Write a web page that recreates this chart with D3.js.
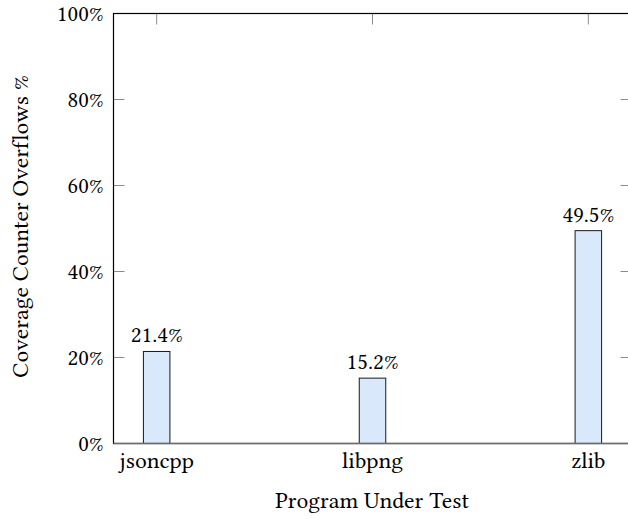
<!DOCTYPE html>
<html><head><meta charset="utf-8">
<script src="https://cdn.jsdelivr.net/npm/d3@7"></script>
</head><body style="margin:0"><svg id="c" width="628" height="519"></svg>
<script>
const categories = ["jsoncpp", "libpng", "zlib"];
const values = [21.4, 15.2, 49.5];
const yTicks = [0, 20, 40, 60, 80, 100];

const svg = d3.select("#c");
const FF = "Libertinus Serif";
const L = 113.5, R = 631.5, T = 13.5, B = 443.5;
const fs = 23.5, fn = 23;
const x = d3.scalePoint().domain(categories).range([L, R]).padding(0.2);
const y = d3.scaleLinear().domain([0, 100]).range([B, T]);
const bw = 26.5;

// ticks (gray, inside)
const tg = svg.append("g").attr("stroke", "#8c8c8c").attr("stroke-width", 1);
yTicks.forEach(t => {
  tg.append("line").attr("x1", L).attr("x2", L + 11).attr("y1", y(t)).attr("y2", y(t));
  tg.append("line").attr("x1", R - 11).attr("x2", R).attr("y1", y(t)).attr("y2", y(t));
});
categories.forEach(c => {
  tg.append("line").attr("x1", x(c)).attr("x2", x(c)).attr("y1", T).attr("y2", T + 11);
});

// bars
svg.append("g").selectAll("rect").data(categories).join("rect")
  .attr("x", c => x(c) - bw / 2).attr("width", bw)
  .attr("y", (c, i) => y(values[i])).attr("height", (c, i) => B - y(values[i]))
  .attr("fill", "#dae8fc").attr("stroke", "#1a1a1a").attr("stroke-width", 1);

// value labels
svg.append("g").selectAll("text").data(categories).join("text")
  .attr("x", c => x(c)).attr("y", (c, i) => y(values[i]) - 9)
  .attr("font-size", fn).attr("font-family", FF).attr("text-anchor", "middle")
  .text((c, i) => values[i].toFixed(1) + "%");

// frame
svg.append("rect").attr("x", L).attr("y", T).attr("width", R - L).attr("height", B - T)
  .attr("fill", "none").attr("stroke", "#000").attr("stroke-width", 1.2);
svg.append("line").attr("x1", L).attr("x2", R).attr("y1", B).attr("y2", B)
  .attr("stroke", "#6e6e6e").attr("stroke-width", 1.6);

// y tick labels
svg.append("g").selectAll("text").data(yTicks).join("text")
  .attr("x", 103.5).attr("y", d => y(d) + 7)
  .attr("font-size", fn).attr("font-family", FF).attr("text-anchor", "end")
  .text(d => d + "%");

// x tick labels
svg.append("g").selectAll("text").data(categories).join("text")
  .attr("x", c => x(c)).attr("y", 468)
  .attr("font-size", fs).attr("font-family", FF).attr("text-anchor", "middle")
  .text(c => c);

// axis titles
svg.append("text").attr("x", 372).attr("y", 508)
  .attr("font-size", fs).attr("font-family", FF).attr("text-anchor", "middle")
  .text("Program Under Test");
svg.append("text").attr("transform", "translate(27.5,226.5) rotate(-90)")
  .attr("font-size", fs).attr("font-family", FF).attr("text-anchor", "middle")
  .text("Coverage Counter Overflows %");
</script></body></html>
